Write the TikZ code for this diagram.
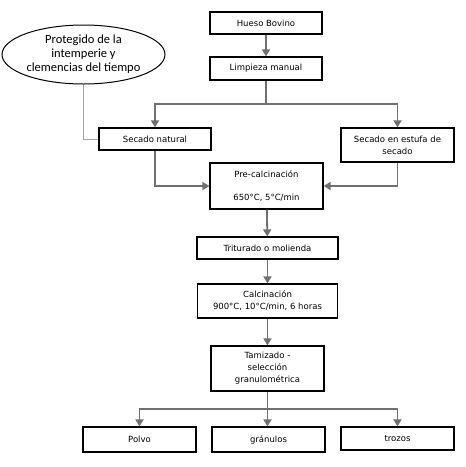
\documentclass[tikz,border=0pt]{standalone}
\usepackage{fontspec}
\setmainfont{DejaVu Sans}
\newfontfamily\ovalfont{Carlito}
\usetikzlibrary{arrows.meta,positioning,shapes.geometric}
\definecolor{flowgray}{RGB}{112,112,112}
\definecolor{notegray}{RGB}{165,165,165}
\tikzset{
  every node/.append style={font=\fontsize{8.5}{12}\selectfont},
  box/.style={draw, line width=1.2pt, align=center, inner sep=2pt, minimum width=113pt, minimum height=22pt},
  arrow/.style={-{Triangle[width=8pt,length=7pt]}, draw=flowgray, line width=1.8pt},
  note/.style={draw=notegray, line width=1pt}
}

\begin{document}
\begin{tikzpicture}[x=1pt,y=-1pt]
\useasboundingbox (0,0) rectangle (466,467);

% Main chain
\node[box, minimum width=112pt] (hueso) at (266,23) {Hueso Bovino};
\node[box, minimum width=112pt, minimum height=23pt] (limpieza) at (266,68.5) {Limpieza manual};
\node[box, minimum width=112pt] (natural) at (155,139) {Secado natural};
\node[box, minimum height=34pt] (estufa) at (397.5,145) {Secado en estufa de\\secado};
\node[box, minimum height=46pt] (precalc) at (266.5,186) {Pre-calcinación\\[11pt]650°C, 5°C/min};
\node[box, minimum width=141pt] (triturado) at (267.5,248) {Triturado o molienda};
\node[box, minimum width=140pt, minimum height=34pt] (calc) at (267.5,301) {Calcinación\\900°C, 10°C/min, 6 horas};
\node[box, minimum height=45pt] (tamizado) at (267.5,368.5) {Tamizado -\\selección\\granulométrica};
\node[box, minimum height=25pt] (polvo) at (139.5,439.5) {Polvo};
\node[box, minimum height=25pt] (granulos) at (268.5,439.5) {gránulos};
\node[box, minimum height=23pt] (trozos) at (397.5,438.5) {trozos};

% Note
\node[draw, ellipse, line width=1pt, minimum width=163pt, minimum height=59pt, inner sep=0pt, align=center,
  font=\ovalfont\fontsize{12.5}{14}\selectfont] (proteccion) at (83.5,54.5)
  {Protegido de la\\intemperie y\\clemencias del tiempo};

\coordinate (split1) at (266,104);
\coordinate (split2) at (267.5,409);

% Connectors
\draw[arrow] (hueso) -- (limpieza);
\draw[arrow] (limpieza.south) -- (split1) -| (natural.north);
\draw[arrow] (split1) -| (estufa.north);
\draw[arrow] (natural.south) |- (precalc.west);
\draw[arrow] (estufa.south) |- (precalc.east);
\draw[arrow] (precalc) -- (triturado);
\draw[arrow] (triturado) -- (calc);
\draw[arrow] (calc) -- (tamizado);
\draw[arrow] (tamizado.south) -- (split2) -| (polvo.north);
\draw[arrow] (split2) -| (trozos.north);
\draw[arrow] (split2) -- (split2 |- granulos.north);
\draw[note] (proteccion.south) |- (natural.west);
\end{tikzpicture}
\end{document}
